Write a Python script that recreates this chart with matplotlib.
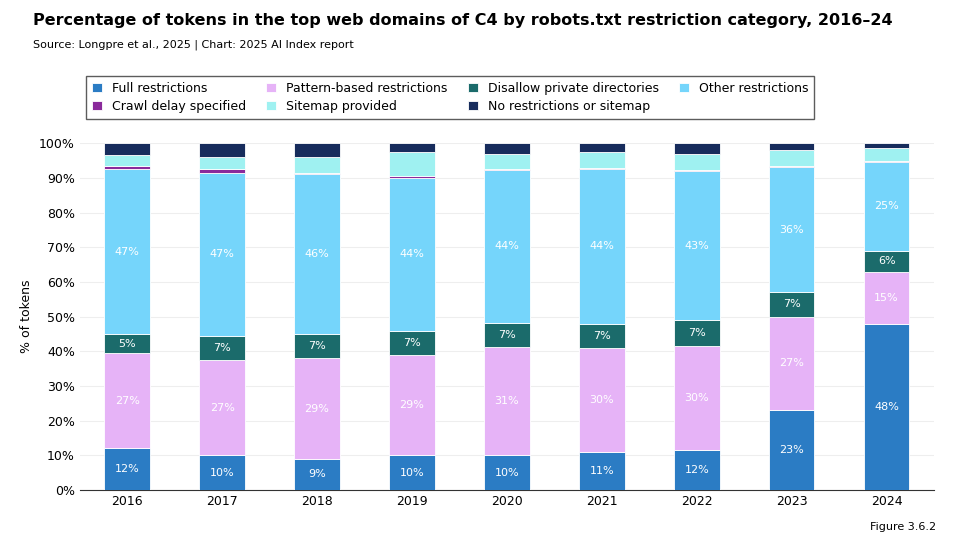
import matplotlib
matplotlib.use("Agg")
import matplotlib.pyplot as plt
import numpy as np

years = ["2016","2017","2018","2019","2020","2021","2022","2023","2024"]
full = [12, 10, 9, 10, 10, 11, 11.5, 23, 48]
pattern = [27.5, 27.5, 29, 29, 31.3, 30, 30, 27, 15]
disallow = [5.5, 7, 7, 7, 7, 7, 7.5, 7, 6]
other = [47.5, 47, 46, 44, 44, 44.5, 43, 36, 25.5]
crawl = [1, 1, 0.5, 0.5, 0.3, 0.3, 0.4, 0.3, 0.3]
sitemap = [3, 3.5, 4.5, 7, 4.4, 4.7, 4.6, 4.7, 3.7]
none_ = [3.5, 4, 4, 2.5, 3, 2.5, 3, 2, 1.5]
labels = {
    "full": ["12%","10%","9%","10%","10%","11%","12%","23%","48%"],
    "pattern": ["27%","27%","29%","29%","31%","30%","30%","27%","15%"],
    "disallow": ["5%","7%","7%","7%","7%","7%","7%","7%","6%"],
    "other": ["47%","47%","46%","44%","44%","44%","43%","36%","25%"],
}

series = [
    ("Full restrictions", full, "#2b7cc4", "full"),
    ("Crawl delay specified", crawl, "#8a2a9b", None),
    ("Pattern-based restrictions", pattern, "#e6b3f7", "pattern"),
    ("Sitemap provided", sitemap, "#9ff1f1", None),
    ("Disallow private directories", disallow, "#1b6b6b", "disallow"),
    ("No restrictions or sitemap", none_, "#172c5c", None),
    ("Other restrictions", other, "#75d5fb", "other"),
]
order = ["Full restrictions","Pattern-based restrictions","Disallow private directories",
         "Other restrictions","Crawl delay specified","Sitemap provided","No restrictions or sitemap"]

fig = plt.figure(figsize=(9.6, 5.55), dpi=100)
ax = fig.add_axes([0.083, 0.117, 0.89, 0.625])
x = np.arange(len(years))
bottom = np.zeros(len(years))
smap = {s[0]: s for s in series}
handles = {}
for name in order:
    _, vals, col, key = smap[name]
    b = ax.bar(x, vals, 0.48, bottom=bottom, color=col, edgecolor="white", linewidth=0.6, zorder=3, label=name)
    handles[name] = b
    if key:
        for i, v in enumerate(vals):
            ax.text(x[i], bottom[i] + v / 2, labels[key][i], ha="center", va="center",
                    color="white", fontsize=8, zorder=4)
    bottom += np.array(vals)

ax.set_ylim(0, 100)
ax.set_xlim(-0.5, len(years) - 0.5)
ax.set_yticks(range(0, 101, 10))
ax.set_yticklabels([f"{v}%" for v in range(0, 101, 10)], fontsize=9)
ax.set_xticks(x)
ax.set_xticklabels(years, fontsize=9)
ax.set_ylabel("% of tokens", fontsize=9)
ax.grid(True, color="#eeeeee", linewidth=0.8, zorder=0)
for s in ["top", "right", "left"]:
    ax.spines[s].set_visible(False)
ax.spines["bottom"].set_color("#333333")
ax.tick_params(length=0)

cols = [["Full restrictions","Crawl delay specified"],["Pattern-based restrictions","Sitemap provided"],
        ["Disallow private directories","No restrictions or sitemap"],["Other restrictions"]]
hl = [n for c in cols for n in c]
fig.legend([handles[n] for n in hl], hl, loc="upper left", bbox_to_anchor=(0.083, 0.875), ncol=4,
           fontsize=9, frameon=True, edgecolor="#333333", fancybox=False, handlelength=0.8,
           handleheight=0.8, columnspacing=1.6, borderpad=0.5, labelspacing=0.4)

fig.text(0.034, 0.955, "Percentage of tokens in the top web domains of C4 by robots.txt restriction category, 2016–24",
         fontsize=11.5, fontweight="bold")
fig.text(0.034, 0.915, "Source: Longpre et al., 2025 | Chart: 2025 AI Index report", fontsize=8)
fig.text(0.975, 0.045, "Figure 3.6.2", fontsize=8, ha="right")
fig.savefig("out.png", dpi=100)
